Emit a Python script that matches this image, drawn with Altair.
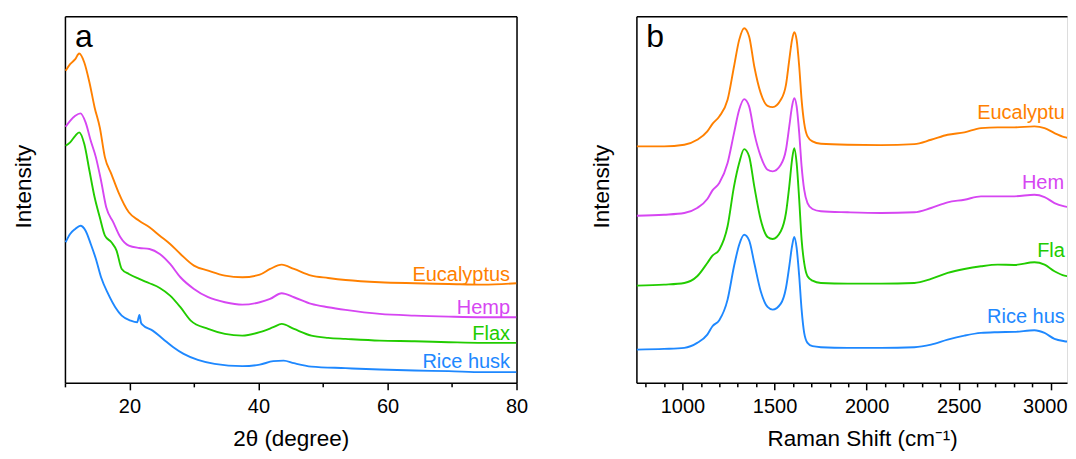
import altair as alt
import pandas as pd

FONT = "Liberation Sans"
series = ["Eucalyptus", "Hemp", "Flax", "Rice husk"]
colors = ["#FF8000", "#D646F2", "#22CC00", "#1E88FF"]

# ---------------- (a) XRD ----------------
xrd_euc_x = [10.1, 10.8, 11.6, 12.2, 13.0, 13.8, 14.6, 15.4, 16.2, 17.2, 18.3, 19.9, 21.5, 23.1, 24.7, 26.3, 27.9,
             30.0, 32.2, 34.8, 37.5, 40.2, 41.8, 43.6, 45.5, 48.2, 50.8, 53.5, 58.8, 64.2, 69.5, 74.8, 80.0]
xrd_euc_y = [312.3, 319, 324, 329.7, 320.7, 300.7, 275.7, 255.7, 225.7, 209, 190.7, 170.7, 162.3, 155.7, 147.3, 139, 129,
             117.3, 112.3, 107.3, 105.7, 108.3, 114, 118.3, 114, 107.3, 105, 103, 100.7, 99.7, 99, 98.3, 99.7]

xrd_hemp_x = [10.1, 10.8, 11.6, 12.4, 13.2, 14.0, 14.8, 15.6, 16.4, 17.5, 18.6, 19.9, 21.5, 23.1, 24.7, 26.3, 27.9,
              30.0, 32.2, 34.8, 37.5, 40.2, 41.8, 43.6, 45.5, 48.2, 50.8, 53.5, 58.8, 64.2, 69.5, 74.8, 80.0]
xrd_hemp_y = [256.3, 262.3, 267.3, 269.7, 260.7, 242.3, 225.7, 202.3, 175.7, 160.7, 145.7, 137.3, 135, 134, 129, 119, 105.7,
              94, 85.7, 80.7, 78.3, 80.7, 84, 89.7, 85.7, 79, 75.7, 73, 69, 67.3, 66.3, 65.7, 65.7]

xrd_flax_x = [10.1, 10.8, 11.6, 12.2, 13.0, 13.8, 14.6, 15.4, 16.2, 17.2, 18.0, 18.8, 19.9, 21.5, 23.1, 24.7, 26.3, 27.9,
              29.5, 32.2, 34.8, 37.5, 40.2, 42.3, 43.6, 45.5, 48.2, 50.8, 53.5, 58.8, 64.2, 69.5, 74.8, 80.0]
xrd_flax_y = [237.3, 240.7, 247.3, 250.7, 239, 212.3, 185.7, 165.7, 147.3, 140.7, 132.3, 114, 109, 104, 99.7, 95, 87.3, 75.7,
              62.3, 54, 49, 47.3, 50.7, 55.7, 59, 54, 47.3, 45, 44, 42.3, 41.7, 40.7, 40, 40]

xrd_rice_x = [10.1, 10.8, 11.6, 12.4, 13.2, 14.0, 14.8, 15.6, 16.7, 17.8, 18.8, 20.2, 21.2, 21.55, 21.8, 22.0, 23.6, 25.2,
              26.8, 28.4, 30.6, 33.2, 37.5, 40.2, 42.3, 43.9, 45.5, 48.2, 53.5, 58.8, 64.2, 69.5, 74.8, 80.0]
xrd_rice_y = [140.7, 149, 154, 157.3, 152.3, 139, 124, 105.7, 89, 75.7, 67.3, 62.3, 60.7, 68, 60, 58.3, 52.3, 44,
              35.7, 29, 23, 19, 16.7, 18.3, 21.7, 22.3, 19.7, 16.3, 14.7, 13.3, 12.3, 11.7, 10.7, 10.7]

xrd_label_x = [79.0, 79.0, 79.0, 79.0]
xrd_label_y = [102, 68.7, 43, 15.3]

# ---------------- (b) Raman ----------------
raman_x = [752, 900, 1010, 1080, 1135, 1163, 1200, 1245, 1280, 1308, 1335, 1362, 1390, 1425, 1462, 1490, 1534, 1562,
           1580, 1595, 1607, 1620, 1634, 1647, 1661, 1679, 1706, 1752, 1897, 2078, 2259, 2350, 2440, 2531, 2621, 2712,
           2802, 2911, 2966, 3020, 3074, 3143]
raman_euc = [236.7, 236.7, 238.3, 243.3, 251.7, 259.3, 266.7, 283.3, 316.7, 343.3, 355, 346.7, 316.7, 290, 277.3, 276,
             283.3, 298.3, 323.3, 343.3, 351, 343.3, 316.7, 283.3, 260, 246.7, 241.7, 239.3, 238.3, 238, 239, 243.3,
             248.3, 250.7, 255, 255.7, 255.7, 256.7, 255, 250, 246, 244]
raman_hemp = [167.3, 168.3, 170, 175, 184, 192.7, 200, 220, 250, 273.3, 284, 276.7, 250, 226.7, 213.3, 211.7,
              218.3, 233.3, 256.7, 276.7, 285, 276.7, 250, 216.7, 193.3, 180, 174, 171.7, 170.7, 170, 170.7, 175,
              180.7, 183.3, 186.7, 186.7, 186.7, 188.3, 186, 180, 176.7, 175]
raman_flax = [97.3, 98.3, 100, 106.7, 120, 127.3, 133.3, 156.7, 196.7, 220, 234, 226.7, 196.7, 163.3, 146, 144,
              151.7, 170, 196.7, 223.3, 235, 220, 183.3, 143.3, 120, 106.7, 102.3, 100, 99.3, 99.3, 100, 104,
              110, 114, 116.7, 118.3, 118, 120.7, 118.3, 111.7, 107.3, 106]
raman_rice = [33.3, 34, 35, 40, 48.3, 56.7, 62.7, 83.3, 116.7, 138.3, 148.3, 142.7, 120, 91.7, 76, 73.3,
              79.3, 95, 116.7, 136.7, 146, 135, 106.7, 73.3, 50, 40, 36.7, 35.7, 35, 35, 35.7, 38.3,
              43.3, 47.3, 50, 50.7, 51, 52.7, 50, 44, 41.7, 40.7]

raman_label_x = [2600, 2843, 2926, 2654]
raman_label_y = [263.7, 193.7, 126.3, 59.7]

xrd_major = [20, 40, 60, 80]
xrd_minor = [10, 30, 50, 70]
raman_major = [1000, 1500, 2000, 2500, 3000]
raman_minor = [800, 900, 1100, 1200, 1300, 1400, 1600, 1700, 1800, 1900, 2100, 2200, 2300, 2400,
               2600, 2700, 2800, 2900]


def long_df(items):
    rows = []
    for name, xs, ys in items:
        for xv, yv in zip(xs, ys):
            rows.append({"x": xv, "y": yv, "s": name})
    return pd.DataFrame(rows)


xrd_df = long_df([
    ("Eucalyptus", xrd_euc_x, xrd_euc_y),
    ("Hemp", xrd_hemp_x, xrd_hemp_y),
    ("Flax", xrd_flax_x, xrd_flax_y),
    ("Rice husk", xrd_rice_x, xrd_rice_y),
])
raman_df = long_df([
    ("Eucalyptus", raman_x, raman_euc),
    ("Hemp", raman_x, raman_hemp),
    ("Flax", raman_x, raman_flax),
    ("Rice husk", raman_x, raman_rice),
])

color = alt.Color("s:N", scale=alt.Scale(domain=series, range=colors), legend=None)
YDOM = [0, 367]
H = 367

LINE = dict(domainColor="black", domainWidth=1.5, tickColor="black", tickWidth=1.5, grid=False)
TXT = dict(labelFont=FONT, labelColor="black", labelFontSize=20, labelFlush=False,
           titleFont=FONT, titleColor="black", titleFontSize=22.5, titleFontWeight="normal")


def domain_only(orient):
    return alt.Axis(orient=orient, labels=False, ticks=False, title=None, **LINE)


def panel(df, lab_x, lab_y, xdom, width, major, minor, xtitle, ytitle_pad, title_x, letter, letter_x,
          align, truncate, label_offset=None):
    xs = alt.Scale(domain=xdom, nice=False, zero=False)
    ys = alt.Scale(domain=YDOM, nice=False, zero=False)
    x_axis_kw = dict(orient="bottom", values=major, tickSize=7, labelPadding=7, format="d",
                     title=xtitle, titlePadding=11, **LINE, **TXT)
    if title_x is not None:
        x_axis_kw["titleX"] = title_x
    if label_offset is not None:
        x_axis_kw["labelOffset"] = label_offset
    lines = alt.Chart(df).mark_line(strokeWidth=1.9, clip=True, interpolate="monotone").encode(
        x=alt.X("x:Q", scale=xs, axis=alt.Axis(**x_axis_kw)),
        y=alt.Y("y:Q", scale=ys, axis=alt.Axis(orient="left", labels=False, ticks=False,
                                                 title="Intensity", titlePadding=ytitle_pad,
                                                 titleY=170, **LINE, **TXT)),
        color=color,
        order="x:Q",
    )
    layers = [lines]
    px_per_unit = width / (xdom[1] - xdom[0])
    for i, name in enumerate(series):
        d = pd.DataFrame({"x": [lab_x[i]], "y": [lab_y[i]], "s": [name]})
        kw = dict(align=align, baseline="alphabetic", fontSize=20, font=FONT)
        if truncate:
            # the label runs past the right edge of the panel, as in the cropped original
            kw["limit"] = width - (lab_x[i] - xdom[0]) * px_per_unit
            kw["ellipsis"] = "\u200b"
            kw["clip"] = True
        if i == 0:
            xax = alt.Axis(orient="bottom", values=minor, tickSize=4, labels=False, domain=False,
                           title=None, tickColor="black", tickWidth=1.5, grid=False)
            yax = domain_only("right") if not truncate else None
        else:
            xax = None
            yax = None
        layers.append(alt.Chart(d).mark_text(**kw).encode(
            x=alt.X("x:Q", scale=xs, axis=xax),
            y=alt.Y("y:Q", scale=ys, axis=yax),
            text="s:N",
            color=color,
        ))
    let_df = pd.DataFrame({"x": [letter_x], "y": [336], "t": [letter]})
    layers.append(alt.Chart(let_df).mark_text(align="left", baseline="alphabetic", fontSize=32,
                                              font=FONT, color="black").encode(
        x=alt.X("x:Q", scale=xs, axis=domain_only("top")),
        y=alt.Y("y:Q", scale=ys, axis=None),
        text="t:N",
    ))
    return alt.layer(*layers).resolve_axis(x="independent", y="independent").properties(
        width=width, height=H)


pa = panel(xrd_df, xrd_label_x, xrd_label_y, [10, 80], 452, xrd_major, xrd_minor, "2θ (degree)", 29, None,
           "a", 11.55, "right", False)
pb = panel(raman_df, raman_label_x, raman_label_y, [750, 3088], 431, raman_major, raman_minor,
           "Raman Shift (cm⁻¹)", 23, 226, "b", 804, "left", True,
           label_offset={"condition": {"test": "datum.value === 3000", "value": -6}, "value": 0})

chart = alt.hconcat(pa, pb, spacing=120, bounds="flush").properties(
    padding={"left": 4, "top": 7, "right": 0, "bottom": 0}
).configure_view(stroke=None).configure(background="white")

chart.save("out.html", embed_options={"renderer": "svg", "actions": False})
